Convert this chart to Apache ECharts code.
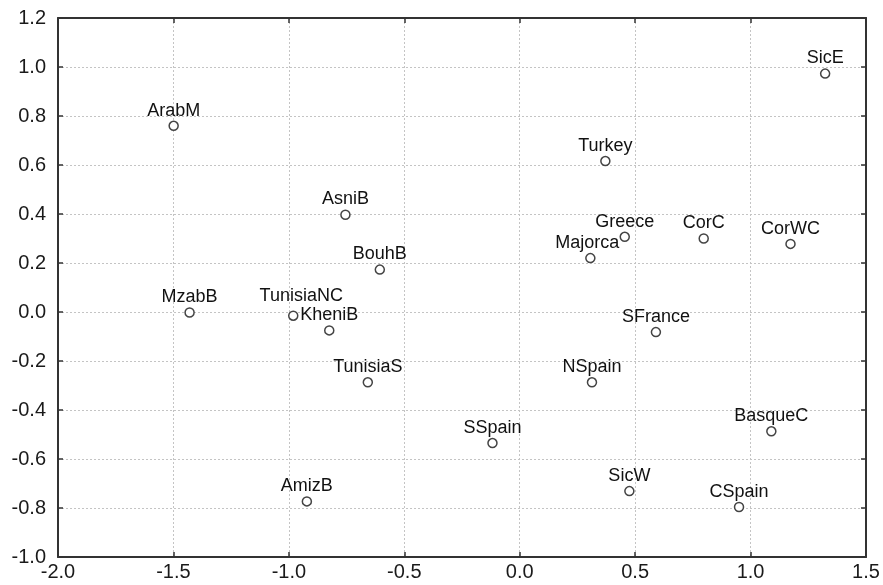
<!DOCTYPE html>
<html>
<head>
<meta charset="utf-8">
<script src="https://cdn.jsdelivr.net/npm/echarts@6/dist/echarts.min.js"></script>
<style>html,body{margin:0;padding:0;background:#fff;}#c{width:883px;height:585px;}</style>
</head>
<body>
<div id="c"></div>
<script>
var names = ["SicE","ArabM","Turkey","AsniB","Greece","CorC","CorWC","Majorca","BouhB","MzabB","TunisiaNC","KheniB","SFrance","TunisiaS","NSpain","SSpain","BasqueC","SicW","AmizB","CSpain"];
var xs = [1.323,-1.499,0.371,-0.755,0.455,0.797,1.173,0.306,-0.606,-1.430,-0.981,-0.825,0.590,-0.658,0.313,-0.118,1.090,0.475,-0.922,0.950];
var ys = [0.973,0.760,0.616,0.397,0.307,0.300,0.278,0.220,0.173,-0.002,-0.015,-0.075,-0.082,-0.287,-0.287,-0.535,-0.487,-0.731,-0.773,-0.796];
var xTicks = ["-2.0","-1.5","-1.0","-0.5","0.0","0.5","1.0","1.5"];
var yTicks = ["-1.0","-0.8","-0.6","-0.4","-0.2","0.0","0.2","0.4","0.6","0.8","1.0","1.2"];

var labelOffsets = { "TunisiaNC": [8, -4], "Majorca": [-3, 0] };

var data = names.map(function (n, i) {
  var item = { value: [xs[i], ys[i]], name: n };
  if (labelOffsets[n]) item.label = { offset: labelOffsets[n] };
  return item;
});

var axisLineStyle = { color: '#333', width: 2 };
var splitStyle = { color: '#c4c4c4', width: 1, type: [2, 2] };
var font = '"Liberation Sans", Arial, Helvetica, sans-serif';

var chart = echarts.init(document.getElementById('c'), null, { renderer: 'canvas' });
chart.setOption({
  animation: false,
  backgroundColor: '#fff',
  grid: { left: 58, top: 18, right: 17, bottom: 28, containLabel: false },
  xAxis: [{
    type: 'value', min: -2.0, max: 1.5, interval: 0.5, position: 'bottom',
    axisLine: { show: true, onZero: false, lineStyle: axisLineStyle },
    axisTick: { show: true, inside: true, length: 5, lineStyle: { color: '#333', width: 1.5 } },
    axisLabel: { color: '#1a1a1a', fontSize: 20, fontFamily: font, margin: 5,
      formatter: function (v) { var i = Math.round((v + 2.0) / 0.5); return xTicks[i] || ''; } },
    splitLine: { show: true, lineStyle: splitStyle }
  }, {
    type: 'value', min: -2.0, max: 1.5, interval: 0.5, position: 'top',
    axisLine: { show: true, onZero: false, lineStyle: axisLineStyle },
    axisTick: { show: true, inside: true, length: 5, lineStyle: { color: '#333', width: 1.5 } },
    axisLabel: { show: false }, splitLine: { show: false }
  }],
  yAxis: [{
    type: 'value', min: -1.0, max: 1.2, interval: 0.2, position: 'left',
    axisLine: { show: true, onZero: false, lineStyle: axisLineStyle },
    axisTick: { show: true, inside: true, length: 5, lineStyle: { color: '#333', width: 1.5 } },
    axisLabel: { color: '#1a1a1a', fontSize: 20, fontFamily: font, margin: 12,
      formatter: function (v) { var i = Math.round((v + 1.0) / 0.2); return yTicks[i] || ''; } },
    splitLine: { show: true, lineStyle: splitStyle }
  }, {
    type: 'value', min: -1.0, max: 1.2, interval: 0.2, position: 'right',
    axisLine: { show: true, onZero: false, lineStyle: axisLineStyle },
    axisTick: { show: true, inside: true, length: 5, lineStyle: { color: '#333', width: 1.5 } },
    axisLabel: { show: false }, splitLine: { show: false }
  }],
  series: [{
    type: 'scatter',
    xAxisIndex: 0, yAxisIndex: 0,
    symbol: 'circle', symbolSize: 9,
    itemStyle: { color: '#fff', borderColor: '#444', borderWidth: 1.5, opacity: 1 },
    label: {
      show: true, position: 'top', distance: 1,
      formatter: '{b}', color: '#111', fontSize: 18, fontFamily: font
    },
    emphasis: { disabled: true },
    data: data
  }]
});
</script>
</body>
</html>
